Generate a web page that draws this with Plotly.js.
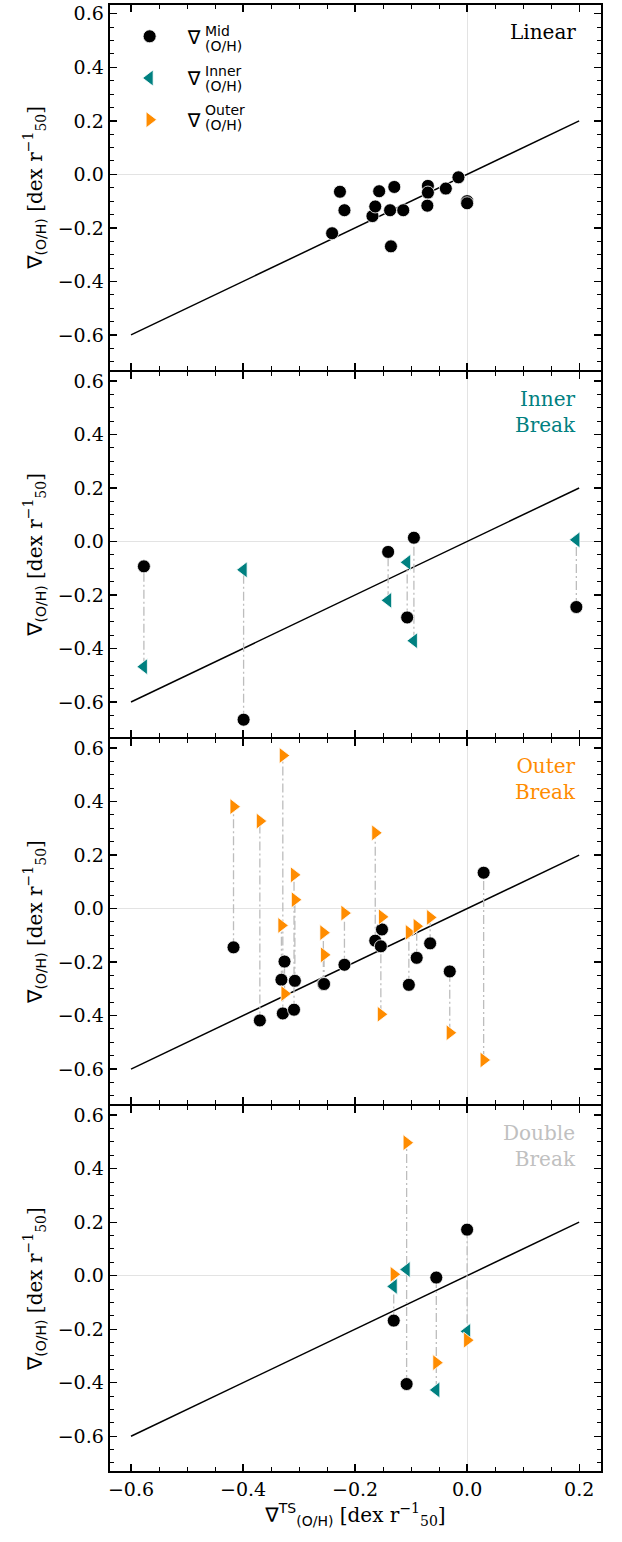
<!DOCTYPE html>
<html>
<head>
<meta charset="utf-8">
<script src="https://cdn.plot.ly/plotly-3.0.1.min.js"></script>
<style>html,body{margin:0;padding:0;background:#fff;}</style>
</head>
<body>
<div id="chart" style="width:622px;height:1542px;"></div>
<script>
// ---------- DATA ----------
// Panel 1: Linear
const linX = [-0.241, -0.227, -0.219, -0.169, -0.164, -0.157, -0.1375, -0.136, -0.130, -0.114, -0.070, -0.070, -0.071, -0.038, -0.0155, 0.0, 0.0];
const linMid = [-0.220, -0.065, -0.134, -0.156, -0.120, -0.063, -0.134, -0.269, -0.047, -0.134, -0.043, -0.068, -0.117, -0.053, -0.011, -0.100, -0.108];
// Panel 2: Inner Break
const innX = [-0.577, -0.399, -0.141, -0.107, -0.095, 0.195];
const innMid = [-0.093, -0.666, -0.039, -0.284, 0.014, -0.245];
const innIn = [-0.468, -0.106, -0.220, -0.078, -0.371, 0.006];
// Panel 3: Outer Break
const outX = [-0.417, -0.370, -0.329, -0.3315, -0.326, -0.3075, -0.309, -0.2566, -0.2554, -0.219, -0.164, -0.152, -0.154, -0.104, -0.090, -0.066, -0.031, 0.0295];
const outMid = [-0.145, -0.418, -0.392, -0.266, -0.198, -0.270, -0.378, -0.282, -0.282, -0.210, -0.120, -0.078, -0.141, -0.285, -0.184, -0.130, -0.235, 0.134];
const outOut = [0.381, 0.327, 0.572, -0.063, -0.318, 0.033, 0.126, -0.090, -0.173, -0.017, 0.283, -0.031, -0.395, -0.089, -0.066, -0.033, -0.464, -0.566];
// Panel 4: Double Break
const dblX = [-0.131, -0.108, -0.055, 0.0];
const dblMid = [-0.168, -0.405, -0.007, 0.172];
const dblIn = [-0.040, 0.023, -0.427, -0.208];
const dblOut = [0.005, 0.497, -0.325, -0.241];
// One-to-one line
const oneToOne = [-0.6, 0.2];
// Tick values
const yTicks = [-0.6, -0.4, -0.2, 0.0, 0.2, 0.4, 0.6];
const xTicks = [-0.6, -0.4, -0.2, 0.0, 0.2];
const panelLabels = ['Linear', 'Inner<br>Break', 'Outer<br>Break', 'Double<br>Break'];
const panelColors = ['#000000', '#008080', '#ff8c00', '#c0c0c0'];
const legSup = ['Mid', 'Inner', 'Outer'];

// ---------- STYLE ----------
const BLACK = '#000000', TEAL = '#008080', ORANGE = '#ff8c00', CONN = '#bdbdbd';
const SERIF = 'DejaVu Serif', SANS = 'DejaVu Sans';
const LW = 2.4;

function connectors(xs, groups) {
  const cx = [], cy = [];
  xs.forEach((x, i) => {
    const vals = groups.map(g => g[i]);
    cx.push(x, x, null);
    cy.push(Math.min(...vals), Math.max(...vals), null);
  });
  return {cx, cy};
}

const data = [];
const panels = [
  {x: linX, mid: linMid},
  {x: innX, mid: innMid, inn: innIn},
  {x: outX, mid: outMid, out: outOut},
  {x: dblX, mid: dblMid, inn: dblIn, out: dblOut}
];

panels.forEach((p, k) => {
  const xa = 'x' + (k === 0 ? '' : k + 1);
  const ya = 'y' + (k === 0 ? '' : k + 1);
  data.push({x: oneToOne, y: oneToOne, xaxis: xa, yaxis: ya, mode: 'lines',
    line: {color: BLACK, width: 1.5}, showlegend: false, hoverinfo: 'skip'});
  const groups = [p.mid];
  if (p.inn) groups.push(p.inn);
  if (p.out) groups.push(p.out);
  if (groups.length > 1) {
    const c = connectors(p.x, groups);
    data.push({x: c.cx, y: c.cy, xaxis: xa, yaxis: ya, mode: 'lines',
      line: {color: CONN, width: 1.3, dash: '9px,3px,2px,3px'}, showlegend: false, hoverinfo: 'skip'});
  }
});

const NB = '\u00a0\u00a0\u00a0';
panels.forEach((p, k) => {
  const xa = 'x' + (k === 0 ? '' : k + 1);
  const ya = 'y' + (k === 0 ? '' : k + 1);
  data.push({x: p.x, y: p.mid, xaxis: xa, yaxis: ya, mode: 'markers', name: NB + '∇',
    legendgroup: 'mid', legendrank: 1, showlegend: k === 0,
    marker: {symbol: 'circle', size: 13, color: BLACK, line: {color: '#ffffff', width: 0.8}}});
  if (p.inn) data.push({x: p.x, y: p.inn, xaxis: xa, yaxis: ya, mode: 'markers', name: NB + '∇',
    legendgroup: 'inn', legendrank: 2, showlegend: k === 1,
    marker: {symbol: 'triangle-left', size: 14, color: TEAL, line: {color: '#ffffff', width: 0.8}}});
  if (p.out) data.push({x: p.x, y: p.out, xaxis: xa, yaxis: ya, mode: 'markers', name: NB + '∇',
    legendgroup: 'out', legendrank: 3, showlegend: k === 2,
    marker: {symbol: 'triangle-right', size: 14, color: ORANGE, line: {color: '#ffffff', width: 0.8}}});
});

const xr = [-0.6375, 0.239];
const yr = [-0.73, 0.633];
const yTitle = '<span style="font-family:DejaVu Sans">∇<sub>(O/H)</sub></span> [dex r<sup>−1</sup><sub>50</sub>]';
const xTitle = '<span style="font-family:DejaVu Sans">∇<sup>TS</sup><sub>(O/H)</sub></span> [dex r<sup>−1</sup><sub>50</sub>]';

const PLOT_H = 1542 - 5 - 71;
const GAP = LW / PLOT_H;
const PH = (1 - 3 * GAP) / 4;

const layout = {
  width: 622, height: 1542,
  margin: {l: 110, r: 21, t: 5, b: 71},
  paper_bgcolor: '#ffffff', plot_bgcolor: '#ffffff',
  font: {family: SERIF, size: 19, color: BLACK},
  showlegend: true,
  legend: {x: 0.04, xanchor: 'left', y: 0.9915, yanchor: 'top', bgcolor: 'rgba(0,0,0,0)',
    font: {family: SANS, size: 19, color: BLACK}, tracegroupgap: 14, itemsizing: 'trace'},
  annotations: [],
  hovermode: false
};

function axisCommon() {
  return {
    showline: true, linecolor: BLACK, linewidth: LW, mirror: 'allticks',
    ticks: 'inside', ticklen: 7, tickwidth: 1.3, tickcolor: BLACK,
    minor: {dtick: 0.05, ticks: 'inside', ticklen: 4, tickwidth: 1, tickcolor: BLACK},
    showgrid: false, zeroline: true, zerolinecolor: '#e3e3e3', zerolinewidth: 1,
    tickfont: {family: SERIF, size: 19, color: BLACK}, tickformat: '.1f'
  };
}

for (let k = 0; k < 4; k++) {
  const sfx = k === 0 ? '' : String(k + 1);
  const top = 1 - k * (PH + GAP);
  const xa = Object.assign(axisCommon(), {
    domain: [0, 1], anchor: 'y' + sfx, range: xr, tickvals: xTicks,
    showticklabels: k === 3
  });
  if (k === 3) xa.title = {text: xTitle, font: {family: SERIF, size: 20, color: BLACK}, standoff: 8};
  const ya = Object.assign(axisCommon(), {
    domain: [Math.max(0, top - PH), top], anchor: 'x' + sfx, range: yr, tickvals: yTicks,
    title: {text: yTitle, font: {family: SERIF, size: 20, color: BLACK}, standoff: 10}
  });
  if (k > 0) xa.matches = 'x';
  layout['xaxis' + sfx] = xa;
  layout['yaxis' + sfx] = ya;
  layout.annotations.push({
    text: panelLabels[k], xref: 'x' + sfx + ' domain', yref: 'y' + sfx + ' domain',
    x: 0.953, y: 0.965, xanchor: 'right', yanchor: 'top', align: 'right', showarrow: false,
    font: {family: SERIF, size: 20, color: panelColors[k]}
  });
}

// Legend super/subscripts (stacked, as in the reference)
legSup.forEach((s, i) => {
  layout.annotations.push({text: s, xref: 'x domain', yref: 'y domain', x: 0.19, y: 0.929 - i * 0.109,
    xanchor: 'left', yanchor: 'middle', showarrow: false, font: {family: SANS, size: 14, color: BLACK}});
  layout.annotations.push({text: '(O/H)', xref: 'x domain', yref: 'y domain', x: 0.19, y: 0.888 - i * 0.109,
    xanchor: 'left', yanchor: 'middle', showarrow: false, font: {family: SANS, size: 14, color: BLACK}});
});

Plotly.newPlot('chart', data, layout, {staticPlot: true});
</script>
</body>
</html>
